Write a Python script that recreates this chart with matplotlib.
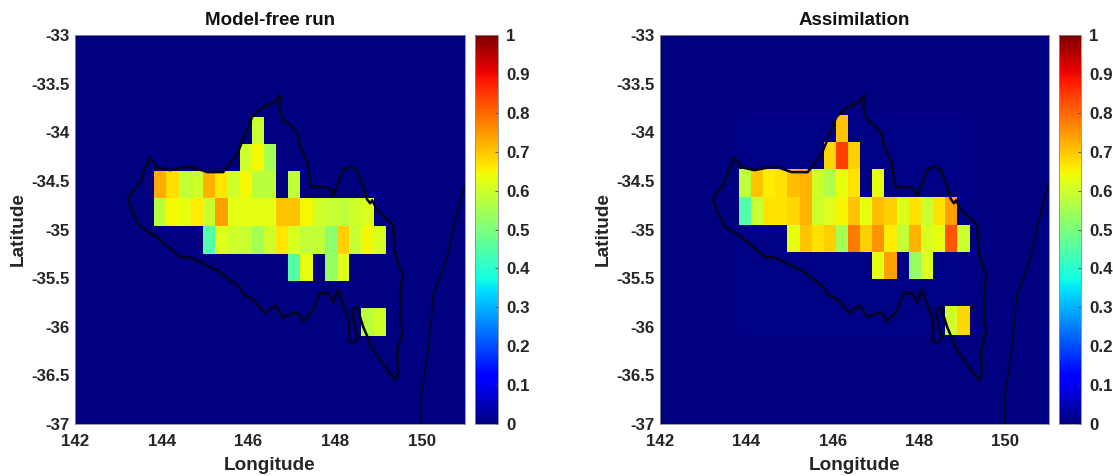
import numpy as np
import matplotlib
matplotlib.use("Agg")
import matplotlib.pyplot as plt
from matplotlib.colors import Normalize
from matplotlib.cm import ScalarMappable

plt.rcParams['font.family'] = ['Liberation Sans', 'DejaVu Sans']
plt.rcParams['font.weight'] = 'bold'

W, H = 1113, 476
TXT = '#262626'
EDGE = '#8c8c8c'

titles = ['Model-free run', 'Assimilation']
x_ticks = [142, 144, 146, 148, 150]
y_ticks = [-33, -33.5, -34, -34.5, -35, -35.5, -36, -36.5, -37]
y_tick_labels = ['-33', '-33.5', '-34', '-34.5', '-35', '-35.5', '-36', '-36.5', '-37']
cbar_ticks = [0, .1, .2, .3, .4, .5, .6, .7, .8, .9, 1]
cbar_labels = ['0', '0.1', '0.2', '0.3', '0.4', '0.5', '0.6', '0.7', '0.8', '0.9', '1']

model_free = [
    [0,   0,   0,   0,   0,   0,   0,   0,   .59, 0,   0,   0,   0,   0,   0,   0,   0,   0,   0],
    [0,   0,   0,   0,   0,   0,   0,   .60, .645, .55, 0,   0,   0,   0,   0,   0,   0,   0,   0],
    [.73, .675, .585, .60, .72, .665, .60, .645, .575, .575, 0,   .585, 0,   0,   0,   0,   0,   0,   0],
    [.575, .645, .63, .66, .59, .74, .625, .625, .625, .625, .70, .70, .645, .60, .59, .58, .60, .615, 0],
    [0,   0,   0,   0,   .45, .62, .60, .59, .55, .60, .665, .61, .585, .58, .52, .69, .59, .645, .61],
    [0,   0,   0,   0,   0,   0,   0,   0,   0,   0,   0,   .45, .63, 0,   .53, .62, 0,   0,   0],
    [0,   0,   0,   0,   0,   0,   0,   0,   0,   0,   0,   0,   0,   0,   0,   0,   0,   0,   0],
    [0,   0,   0,   0,   0,   0,   0,   0,   0,   0,   0,   0,   0,   0,   0,   0,   0,   .575, .60],
]
assimilation = [
    [.004, .004, .004, .004, .004, .004, .004, .004, .70, .004, .004, .004, .004, .004, .004, .004, .004, .004, .004],
    [.004, .004, .004, .004, .004, .004, .004, .68, .84, .69, .004, .004, .004, .004, .004, .004, .004, .004, .004],
    [.58, .70, .66, .67, .71, .72, .60, .56, .63, .67, .004, .63, .004, .004, .004, .004, .004, .004, .004],
    [.45, .59, .67, .67, .68, .72, .595, .62, .65, .70, .63, .71, .69, .62, .67, .59, .67, .74, .004],
    [.004, .004, .004, .004, .63, .70, .67, .69, .55, .78, .69, .75, .66, .585, .72, .61, .63, .82, .59],
    [.004, .004, .004, .004, .004, .004, .004, .004, .004, .004, .004, .63, .74, .004, .53, .62, .004, .004, .004],
    [.004, .004, .004, .004, .004, .004, .004, .004, .004, .004, .004, .004, .004, .004, .004, .004, .004, .004, .004],
    [.004, .004, .004, .004, .004, .004, .004, .004, .004, .004, .004, .004, .004, .004, .004, .004, .004, .60, .68],
]

# grid edges of the 0.28125 degree cells, padded out to the map limits
lon_edges = [142, 143.83, 144.11, 144.39, 144.67, 144.95, 145.24, 145.52, 145.80, 146.08, 146.36,
             146.64, 146.92, 147.20, 147.49, 147.77, 148.05, 148.33, 148.61, 148.89, 149.17, 151]
lat_edges_free = [-33, -33.84, -34.12, -34.40, -34.68, -34.965, -35.25, -35.53, -35.81, -36.10, -37]
lat_edges_assim = [-33, -33.82, -34.10, -34.38, -34.67, -34.95, -35.235, -35.51, -35.79, -36.08, -37]

region_lon = [146.73, 146.71, 146.80, 147.03, 147.13, 147.20, 147.36, 147.43, 147.47, 147.73, 147.89,
              147.96, 148.19, 148.35, 148.51, 148.65, 148.74, 148.81, 148.86, 148.97, 149.34, 149.39,
              149.51, 149.57, 149.51, 149.51, 149.57, 149.44, 149.46, 149.39, 149.20, 148.88, 148.65,
              148.58, 148.51, 148.40, 148.44, 148.54, 148.42, 148.30, 148.33, 148.30, 148.19, 148.07,
              147.96, 147.84, 147.66, 147.50, 147.27, 147.13, 146.80, 146.62, 146.39, 146.11, 145.88,
              145.81, 145.58, 145.28, 144.66, 144.42, 143.89, 143.50, 143.34, 143.22, 143.50, 143.60,
              143.73, 143.89, 144.19, 144.66, 145.05, 145.42, 145.51, 145.74, 145.81, 145.97, 146.09,
              146.34, 146.57, 146.73]
region_lat = [-33.62, -33.74, -33.87, -33.95, -34.01, -34.15, -34.31, -34.49, -34.57, -34.56, -34.59,
              -34.65, -34.39, -34.35, -34.39, -34.56, -34.69, -34.73, -34.70, -34.80, -34.95, -35.24,
              -35.42, -35.45, -35.65, -35.96, -36.03, -36.24, -36.48, -36.55, -36.44, -36.24, -36.00,
              -35.90, -35.80, -35.83, -35.98, -36.11, -36.17, -36.14, -36.03, -35.90, -35.76, -35.62,
              -35.75, -35.65, -35.65, -35.83, -35.95, -35.85, -35.90, -35.78, -35.86, -35.72, -35.67,
              -35.60, -35.52, -35.42, -35.29, -35.28, -35.08, -34.97, -34.83, -34.68, -34.52, -34.38,
              -34.26, -34.36, -34.39, -34.35, -34.41, -34.41, -34.36, -34.23, -34.15, -33.98, -33.84,
              -33.74, -33.70, -33.62]
coast_lon = [151.0, 150.80, 150.57, 150.26, 150.22, 150.14, 149.99, 149.99]
coast_lat = [-34.53, -34.87, -35.31, -35.69, -35.93, -36.27, -36.72, -37.0]

cmap = plt.get_cmap('jet', 256)
norm = Normalize(0, 1)


def px_axes(fig, x0, y0, x1, y1):
    return fig.add_axes([x0 / W, 1 - y1 / H, (x1 - x0) / W, (y1 - y0) / H])


def pad(rows):
    a = np.zeros((len(rows) + 2, len(rows[0]) + 2))
    a[1:-1, 1:-1] = rows
    return a


fig = plt.figure(figsize=(W / 100, H / 100), dpi=100)
panels = [
    (model_free, lat_edges_free, 75, 465, 475, 498),
    (assimilation, lat_edges_assim, 660, 1048.5, 1059, 1081),
]
for i, (vals, lat_edges, x0, x1, c0, c1) in enumerate(panels):
    ax = px_axes(fig, x0, 35, x1, 424)
    ax.pcolormesh(lon_edges, lat_edges, pad(vals), cmap=cmap, norm=norm, shading='flat')
    ax.plot(region_lon, region_lat, color='#05051e', lw=1.8, solid_joinstyle='round')
    ax.plot(coast_lon, coast_lat, color='#05051e', lw=1.3)
    ax.set_xlim(142, 151)
    ax.set_ylim(-37, -33)
    ax.set_xticks(x_ticks)
    ax.set_yticks(y_ticks)
    ax.set_yticklabels(y_tick_labels)
    ax.tick_params(direction='in', length=0, labelsize=12.2, labelcolor=TXT, pad=4)
    ax.tick_params(axis='x', pad=7)
    for s in ax.spines.values():
        s.set_color(EDGE)
        s.set_linewidth(0.6)
    ax.set_title(titles[i], fontsize=13.5, fontweight='bold', color='#111111', pad=7)
    ax.set_xlabel('Longitude', fontsize=13.7, fontweight='bold', color=TXT, labelpad=6)
    ax.set_ylabel('Latitude', fontsize=13.7, fontweight='bold', color=TXT, labelpad=3)

    cax = px_axes(fig, c0, 35, c1, 424)
    cb = fig.colorbar(ScalarMappable(norm=norm, cmap=cmap), cax=cax)
    cb.set_ticks(cbar_ticks)
    cb.set_ticklabels(cbar_labels)
    cax.tick_params(direction='in', length=2, width=0.6, color='#404040', labelsize=12.2,
                    labelcolor=TXT, pad=6)
    cb.outline.set_edgecolor(EDGE)
    cb.outline.set_linewidth(0.6)

fig.savefig('out.png', dpi=100, facecolor='white')
